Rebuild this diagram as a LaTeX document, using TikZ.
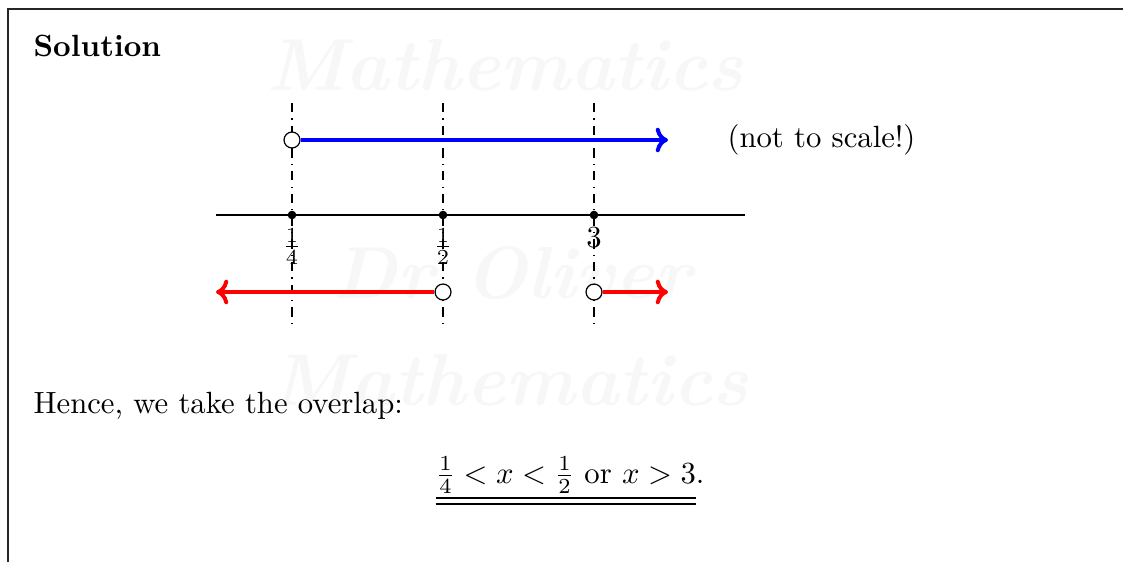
\documentclass[tikz,border=0pt]{standalone}
\usepackage{amsmath,amssymb}
\usepackage{xcolor}
\usetikzlibrary{arrows.meta,positioning}

\begin{document}
\begin{tikzpicture}[
		x=0.3257pt,y=-0.3257pt,
		node distance=2.5pt,
		frameline/.style={line width=0.6pt,black!85},
		guide/.style={dash dot,thin},
		axisline/.style={thin},
		dot/.style={circle,fill=black,inner sep=0pt,minimum size=2.8pt},
		hole/.style={circle,draw,thin,fill=white,inner sep=0pt,minimum size=5.2pt},
		ray/.style={-{To[length=4pt,width=8pt]},line width=1.3pt},
		wmark/.style={text=black!3,font=\fontsize{24}{28}\selectfont\bfseries\itshape}
		]
		\useasboundingbox (0,0) rectangle (1123,562);
		% page frame
		\coordinate (tl) at (8,9);
		\coordinate (tr) at (1123,9);
		\coordinate (bl) at (8,562);
		\draw[frameline] (bl) -- (tl) -- (tr);
		% watermark
		\node[wmark] (wm1) at (505,65) {Mathematics};
		\node[wmark] (wm2) at (512,273) {Dr Oliver};
		\node[wmark] (wm3) at (510,380) {Mathematics};
		\node[anchor=base west,inner sep=0pt,font=\bfseries] (head) at (33,56) {Solution};
		% critical values
		\foreach \n/\x in {q/292,h/443,t/594}{
			\coordinate (\n top) at (\x,103);
			\coordinate (\n bot) at (\x,325);
			\draw[guide] (\n top) -- (\n bot);
		}
		\coordinate (axL) at (216,215);
		\coordinate (axR) at (745,215);
		\draw[axisline] (axL) -- (axR);
		\node[dot] (q) at (292,215) {};
		\node[dot] (h) at (443,215) {};
		\node[dot] (t) at (594,215) {};
		\node[below=of q,inner sep=0pt] (lq) {$\frac14$};
		\node[below=of h,inner sep=0pt] (lh) {$\frac12$};
		\node[below=of t,inner sep=0pt] (lt) {$3$};
		% first inequality
		\node[hole] (bq) at (292,140) {};
		\coordinate (bend) at (668,140);
		\draw[ray,blue] (bq) -- (bend);
		% second inequality
		\node[hole] (rh) at (443,292) {};
		\coordinate (rend) at (216,292);
		\draw[ray,red] (rh) -- (rend);
		\node[hole] (rt) at (594,292) {};
		\coordinate (tend) at (668,292);
		\draw[ray,red] (rt) -- (tend);
		\node[anchor=west,inner sep=0pt] (note) at (727,140) {(not to scale!)};
		\node[anchor=base west,inner sep=0pt] (hence) at (33,413) {Hence, we take the overlap:};
		\node[anchor=base,inner sep=0pt] (answer) at (570,483) {$\underline{\underline{\tfrac14<x<\tfrac12\text{ or }x>3}}$.};
	\end{tikzpicture}
\end{document}
